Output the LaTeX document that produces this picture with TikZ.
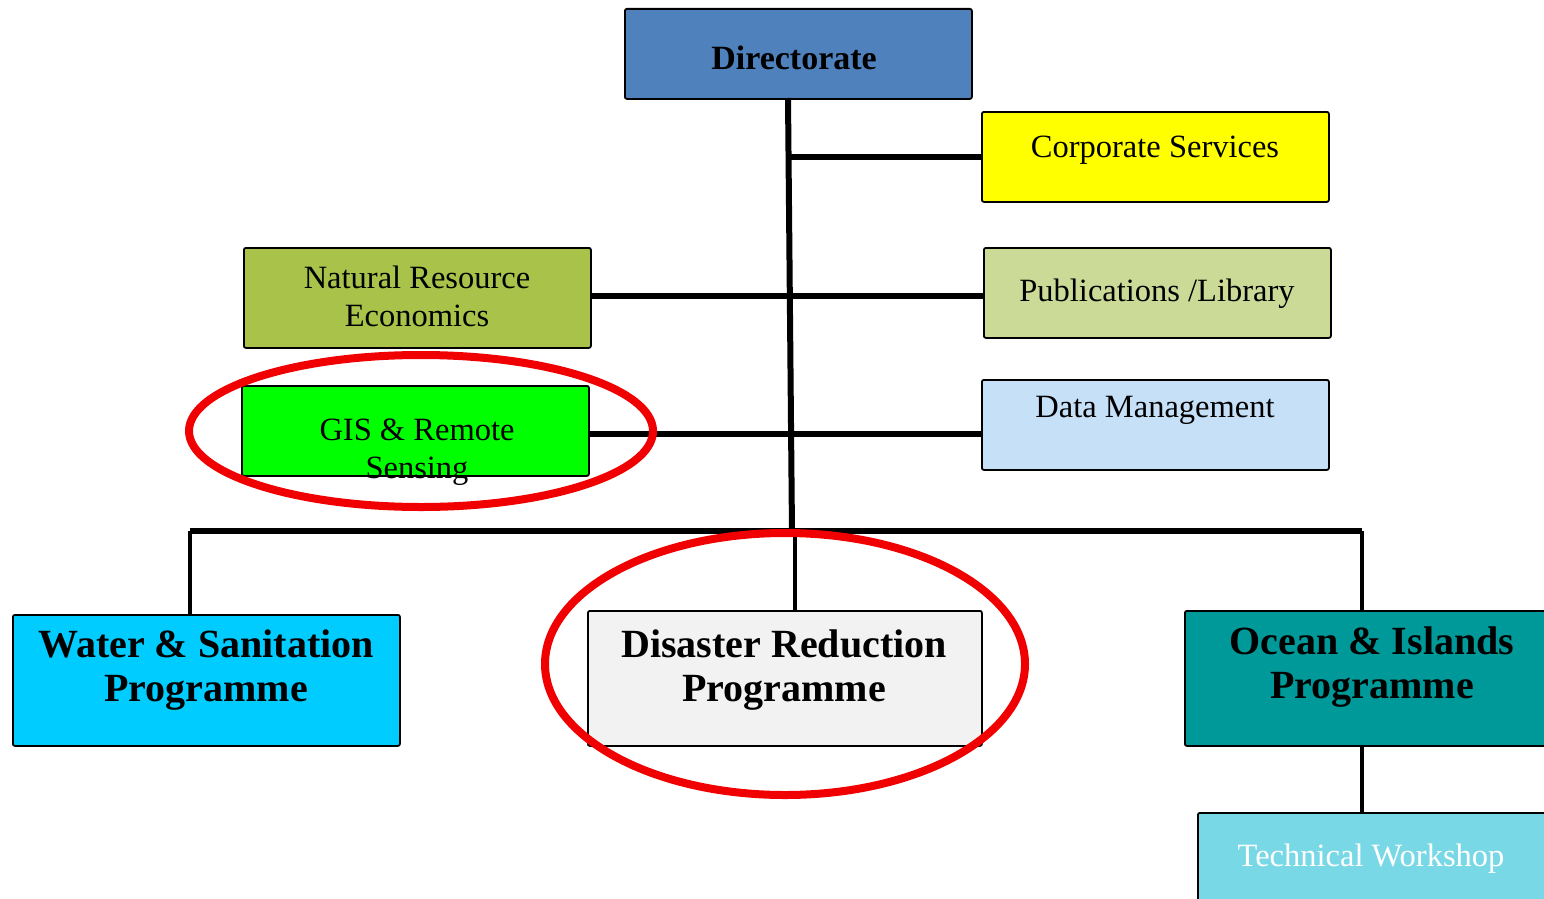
\documentclass[tikz,border=0pt]{standalone}
\usepackage{fontspec}
\setmainfont{Liberation Serif}
\definecolor{cdir}{RGB}{79,129,189}
\definecolor{ccorp}{RGB}{255,255,0}
\definecolor{cnre}{RGB}{168,194,74}
\definecolor{cpub}{RGB}{204,218,152}
\definecolor{cgis}{RGB}{0,255,0}
\definecolor{cdata}{RGB}{198,224,248}
\definecolor{cwater}{RGB}{0,204,255}
\definecolor{cdis}{RGB}{242,242,242}
\definecolor{cocean}{RGB}{0,153,153}
\definecolor{ctech}{RGB}{121,216,230}
\definecolor{cring}{RGB}{240,0,0}
\begin{document}
\begin{tikzpicture}[x=1pt,y=-1pt,
  box/.style={draw=black,line width=1.8pt,rounded corners=2pt,inner sep=0pt,anchor=north west},
  small/.style={font=\fontsize{32.5}{38}\selectfont,align=center,inner sep=0pt},
  big/.style={font=\fontsize{40}{44}\selectfont\bfseries,align=center,inner sep=0pt},
  wire/.style={line width=6pt,black},
  drop/.style={line width=4.5pt,black},
  ring/.style={draw=cring,line width=8pt}]
\fill[white] (0,0) rectangle (1544,899);
\clip (0,0) rectangle (1544,899);
\useasboundingbox (0,0) rectangle (1544,899);
% coordinates
\coordinate (ttop) at (788,98);
\coordinate (tbot) at (792,533);
\coordinate (bl) at (190,531);
\coordinate (br) at (1362,531);
\coordinate (bm) at (795,531);
% boxes
\node[box,fill=cdir,minimum width=347pt,minimum height=90pt] (dir) at (624,8) {};
\node[box,fill=ccorp,minimum width=347pt,minimum height=90pt] (corp) at (981,111) {};
\node[box,fill=cnre,minimum width=347pt,minimum height=100pt] (nre) at (243,247) {};
\node[box,fill=cpub,minimum width=347pt,minimum height=90pt] (pub) at (983,247) {};
\node[box,fill=cgis,minimum width=347pt,minimum height=90pt] (gis) at (241,385) {};
\node[box,fill=cdata,minimum width=347pt,minimum height=90pt] (data) at (981,379) {};
\node[box,fill=cwater,minimum width=387pt,minimum height=131pt] (water) at (12,614) {};
\node[box,fill=cdis,minimum width=394pt,minimum height=135pt] (dis) at (587,610) {};
\node[box,fill=cocean,minimum width=380pt,minimum height=135pt] (ocean) at (1184,610) {};
\node[box,fill=ctech,minimum width=370pt,minimum height=120pt] (tech) at (1197,812) {};
% connector anchor points
\coordinate (nreR) at ([yshift=2pt]nre.east);
\coordinate (gisR) at ([yshift=-3pt]gis.east);
% connectors
\draw[wire] (ttop) -- (tbot);
\draw[wire] (corp.west) -- (corp.west -| ttop);
\draw[wire] (nreR) -- (pub.west |- nreR);
\draw[wire] (gisR) -- (data.west |- gisR);
\draw[wire] (bl) -- (br);
\draw[drop] (bl) -- (bl |- water.north);
\draw[drop] (bm) -- (bm |- dis.north);
\draw[drop] (br) -- (br |- ocean.north);
\draw[drop] (br |- ocean.south) -- (br |- tech.north);
% texts
\node[small,font=\fontsize{34}{38}\selectfont\bfseries] (tdir) at (794,58) {Directorate};
\node[small] (tcorp) at (1155,150) {Corporate Services};
\node[small] (tnre) at (417,296) {Natural Resource\\Economics};
\node[small] (tpub) at (1157,294) {Publications /Library};
\node[small] (tgis) at (417,452) {GIS \& Remote\\Sensing};
\node[small] (tdata) at (1155,410) {Data Management};
\node[big] (twater) at (206,670) {Water \& Sanitation\\Programme};
\node[big] (tdis) at (784,670) {Disaster Reduction\\Programme};
\node[big] (tocean) at (1372,667) {Ocean \& Islands\\Programme};
\node[small,text=white] (ttech) at (1371,859) {Technical Workshop};
% rings
\draw[ring] (421,431) ellipse [x radius=232pt, y radius=76pt];
\draw[ring] (785,664) ellipse [x radius=240pt, y radius=131pt];
\end{tikzpicture}
\end{document}
